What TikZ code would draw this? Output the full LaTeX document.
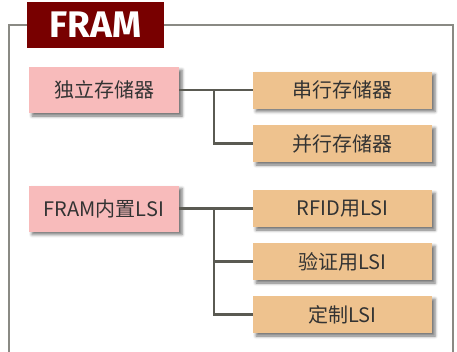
\documentclass[tikz,border=0pt]{standalone}
\usepackage{fontspec}
\setmainfont{Noto Sans CJK SC}
\newfontfamily\titlefont{Fira Sans}
\usetikzlibrary{shadows.blur}
\definecolor{framegray}{HTML}{8A8A84}
\definecolor{titlered}{HTML}{780000}
\definecolor{pinkbox}{HTML}{F8BBBB}
\definecolor{orangebox}{HTML}{EEC28E}
\definecolor{linegray}{HTML}{5A5A52}
\definecolor{txt}{HTML}{333333}
\tikzset{
  boxbase/.style={minimum height=37pt, inner sep=0pt, text=txt, font=\fontsize{20}{21}\selectfont,
    blur shadow={shadow xshift=3pt, shadow yshift=-3pt, shadow blur radius=3pt, shadow opacity=55}},
  mainbox/.style={boxbase, fill=pinkbox, minimum width=150pt, minimum height=46pt},
  subbox/.style={boxbase, fill=orangebox, minimum width=179pt},
  conn/.style={draw=linegray, line width=2.3pt}
}
\begin{document}
\begin{tikzpicture}[x=1pt,y=-1pt]
\useasboundingbox (0,0) rectangle (457,351);
\clip (0,0) rectangle (457,351);
\draw[framegray, line width=1.2pt] (9,360) -- (9,25) -- (453,25) -- (453,360);
\node[fill=titlered, minimum width=137pt, minimum height=46pt, inner sep=0pt, text=white,
  font=\titlefont\bfseries\fontsize{37}{38}\selectfont] (title) at (95.5,25) {FRAM};
\node[mainbox] (m1) at (104,90) {独立存储器};
\node[subbox] (s1) at (342.5,90) {串行存储器};
\node[subbox] (s2) at (342.5,143.5) {并行存储器};
\node[mainbox] (m2) at (104,208.5) {FRAM内置LSI};
\node[subbox] (s3) at (342.5,208.5) {RFID用LSI};
\node[subbox] (s4) at (342.5,261.5) {验证用LSI};
\node[subbox] (s5) at (342.5,314.5) {定制LSI};
\coordinate (j1) at (214,90);
\coordinate (j2) at (214,208.5);
\draw[conn] (m1.east) -- (s1.west);
\draw[conn] (j1) |- (s2.west);
\draw[conn] (m2.east) -- (s3.west);
\draw[conn] (j2) |- (s4.west);
\draw[conn] (j2) |- (s5.west);
\end{tikzpicture}
\end{document}
